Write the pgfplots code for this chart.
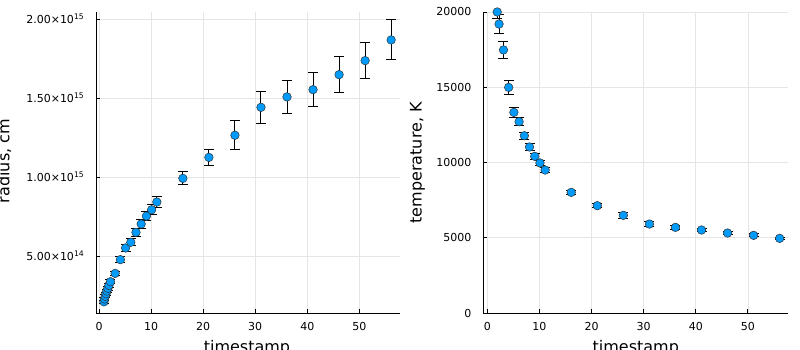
\documentclass[border=0pt]{standalone}
\usepackage{pgfplots}
\pgfplotsset{compat=1.18}
\usepackage{pgfplotstable}
\usepackage{fontspec}
\setmainfont{DejaVu Sans}
\definecolor{jblue}{RGB}{0,154,250}

\pgfplotstableread{
x y e
0.95 2.10e14 1.0e13
1.05 2.28e14 1.0e13
1.2 2.45e14 1.0e13
1.35 2.61e14 1.1e13
1.5 2.78e14 1.1e13
1.7 2.95e14 1.2e13
1.9 3.14e14 1.2e13
2.2 3.37e14 1.3e13
3.1 3.90e14 1.5e13
4.1 4.77e14 1.8e13
5.1 5.51e14 2.0e13
6.1 5.87e14 2.3e13
7.1 6.50e14 2.5e13
8.1 7.03e14 2.8e13
9.1 7.53e14 3.0e13
10.1 7.93e14 3.2e13
11.1 8.42e14 3.6e13
16.1 9.92e14 4.2e13
21.1 1.125e15 5.0e13
26.1 1.265e15 9.2e13
31.1 1.442e15 1.01e14
36.1 1.508e15 1.03e14
41.1 1.554e15 1.08e14
46.1 1.649e15 1.12e14
51.1 1.738e15 1.16e14
56.1 1.869e15 1.27e14
}\radius

\pgfplotstableread{
x y e
1.9 20000 450
2.25 19200 620
3.1 17480 580
4.1 14990 440
5.1 13330 320
6.1 12710 270
7.1 11780 220
8.1 11030 200
9.1 10410 200
10.1 9970 180
11.1 9500 160
16.1 8015 120
21.1 7130 120
26.1 6490 200
31.1 5910 170
36.1 5690 120
41.1 5515 100
46.1 5315 100
51.1 5160 100
56.1 4960 80
}\temper

\pgfplotsset{
 jstyle/.style={
  scale only axis, width=304pt, height=301pt,
  axis lines=left, axis line style={-, black, line width=0.9pt},
  tick align=inside, major tick length=4pt, tick style={black, line width=0.8pt},
  grid=major, major grid style={black!10, line width=0.6pt},
  xtick={0,10,...,50},
  scaled x ticks=false, scaled y ticks=false,
  ticklabel style={font=\fontsize{11}{13}\selectfont, inner sep=0pt},
  xticklabel style={anchor=north, yshift=-9pt},
  yticklabel style={anchor=east, xshift=-11.5pt},
  /pgf/number format/assume math mode=true,
  /pgf/number format/1000 sep={},
 },
 errs/.style={draw=none, mark=none, forget plot,
   error bars/.cd, y dir=both, y explicit, error mark=-,
   error mark options={draw=black, line width=1pt, mark size=5pt, rotate=90},
   error bar style={draw=black, line width=1pt}},
 pts/.style={only marks, mark=*, mark size=4.3pt,
   mark options={fill=jblue, draw=black!80, line width=0.5pt}},
}

\begin{document}
\begin{tikzpicture}
\useasboundingbox (0,0) rectangle (800pt,350pt);
\begin{scope}
\clip (0,0) rectangle (800pt,350pt);
\begin{axis}[jstyle, at={(96pt,37pt)}, anchor=south west,
  xmin=-0.58, xmax=57.8, ymin=1.39e14, ymax=2.046e15,
  ytick={5e14,1e15,1.5e15,2e15},
  yticklabels={5.00×10\textsuperscript{14},1.00×10\textsuperscript{15},1.50×10\textsuperscript{15},2.00×10\textsuperscript{15}},
]
\addplot[errs] table[x=x, y=y, y error=e] {\radius};
\addplot[pts] table[x=x, y=y] {\radius};
\end{axis}
\begin{axis}[jstyle, at={(483pt,37pt)}, anchor=south west, width=305pt,
  xmin=-0.83, xmax=57.7, ymin=0, ymax=20000,
  ytick={0,5000,10000,15000,20000},
]
\addplot[errs] table[x=x, y=y, y error=e] {\temper};
\addplot[pts] table[x=x, y=y] {\temper};
\end{axis}
\node[inner sep=0pt, font=\fontsize{16}{18}\selectfont, rotate=90, anchor=base] at (9.3pt,189pt) {radius, cm};
\node[inner sep=0pt, font=\fontsize{16}{18}\selectfont, rotate=90, anchor=base] at (421.5pt,187.2pt) {temperature, K};
\node[inner sep=0pt, font=\fontsize{16}{18}\selectfont, anchor=base] at (247pt,-2.2pt) {timestamp};
\node[inner sep=0pt, font=\fontsize{16}{18}\selectfont, anchor=base] at (635.8pt,-2.2pt) {timestamp};
\end{scope}
\end{tikzpicture}
\end{document}
